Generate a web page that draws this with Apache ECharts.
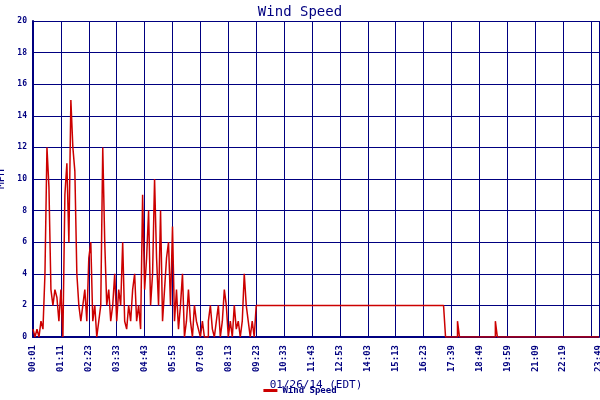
<!DOCTYPE html>
<html><head><meta charset="utf-8">
<script src="https://cdn.jsdelivr.net/npm/echarts@6/dist/echarts.min.js"></script>
<style>html,body{margin:0;padding:0;background:#fff}#c{width:600px;height:400px}</style>
</head><body><div id="c"></div>
<script>
const tickLabels = ['00:01','01:11','02:23','03:33','04:43','05:53','07:03','08:13','09:23','10:33','11:43','12:53','14:03','15:13','16:23','17:39','18:49','19:59','21:09','22:19','23:29'];
const lastLabel = '23:49';
const windA = [0.5,0,0.5,0,1,0.5,4,12,9.5,3,
 2,3,2.5,1,3,
 0,9,11,6,15,12,10.5,4,
 2,1,2,3,1,5,6,1,2,0,1,2,
 12,
 6,2,3,1,2,4,1,3,2,6,1,0.5,2,1,3,4,1,2,0.5,
 9,
 3,5,8,2,4,
 10,
 5,2,8,1,3,5,6,2,7,1,3,0.5,2,4,
 0,1,3,1,0,2,1,0.5,0,1,0,0,1,2,0.5,0,1,2,0,1,3,2,0,1,0,2,0.5,1,0,1,4,2,1,0,1,0,2];
const windB = [2,2,2,2,2,2,2,2,2,2, 2,2,2,2,2,2,2,2,2,2, 2,2,2,2,2,2,2,2,2,2,
 2,2,2,2,2,2,2,2,2,2, 2,2,2,2,2,2,2,2,2,2, 2,2,2,2,2,2,2,2,2,2,
 2,2,2,2,2,2,2,2,2,2, 2,2,2,2,2,2,2,2,2,2, 2,2,2,2,2,2,2,2,2,2, 2,2,2,2];
const windC = [0,0,0,0,0,0,1,0,0,0, 0,0,0,0,0,0,0,0,0,0, 0,0,0,0,0,1,0,0,0,0,
 0,0,0,0,0,0,0,0,0,0, 0,0,0,0,0,0,0,0,0,0, 0,0,0,0,0,0,0,0,0,0,
 0,0,0,0,0,0,0,0,0,0, 0,0,0,0,0,0,0,0];
const wind = windA.concat(windB, windC);
const data = wind.map((v,i)=>[i,v]);
const navy = '#000080', font = 'DejaVu Sans Mono';
const chart = echarts.init(document.getElementById('c'));
chart.setOption({
  animation:false, backgroundColor:'#fff',
  title:{text:'Wind Speed',left:'center',top:0,textStyle:{color:navy,fontFamily:font,fontSize:14,fontWeight:'normal'}},
  grid:{left:33,right:1,top:21,bottom:63,containLabel:false,outerBoundsMode:'none'},
  legend:{bottom:0,left:'center',itemWidth:14,itemHeight:3,icon:'rect',data:['Wind Speed'],
    textStyle:{color:navy,fontFamily:font,fontSize:9,fontWeight:'bold'}},
  xAxis:{type:'value',min:0,max:data.length-1,interval:14,
    name:'01/26/14 (EDT)',nameLocation:'middle',nameGap:43,nameTextStyle:{color:navy,fontFamily:font,fontSize:11},
    axisLine:{lineStyle:{color:navy,width:2}},axisTick:{show:false},
    splitLine:{show:true,lineStyle:{color:navy,width:1}},
    axisLabel:{rotate:90,color:navy,fontFamily:font,fontSize:9,fontWeight:'bold',showMaxLabel:true,hideOverlap:false,
      formatter:v=>v===data.length-1?lastLabel:(tickLabels[Math.round(v/14)]||'')}},
  yAxis:{type:'value',min:0,max:20,interval:2,
    name:'MPH',nameLocation:'middle',nameGap:22,nameTextStyle:{color:navy,fontFamily:font,fontSize:11},
    axisLine:{show:true,lineStyle:{color:navy,width:2}},axisTick:{show:false},
    splitLine:{show:true,lineStyle:{color:navy,width:1}},
    axisLabel:{color:navy,fontFamily:font,fontSize:8,fontWeight:'bold',margin:6}},
  series:[{name:'Wind Speed',type:'line',step:'end',data:data,showSymbol:false,
    lineStyle:{color:'#cc0000',width:1.5},itemStyle:{color:'#cc0000'}}]
});
</script></body></html>
